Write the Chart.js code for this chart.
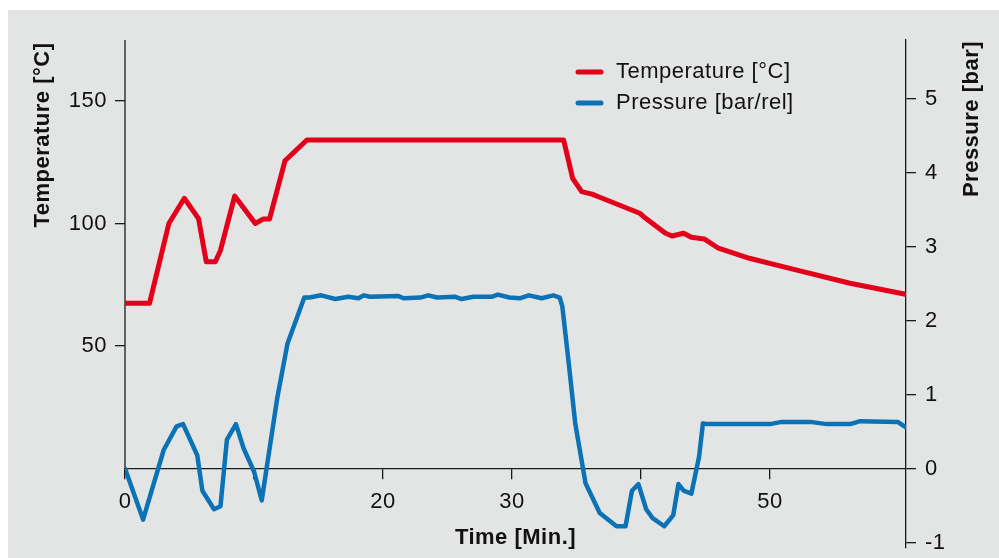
<!DOCTYPE html>
<html lang="en">
<head>
<meta charset="UTF-8">
<title>Temperature and pressure</title>
<script src="https://cdn.jsdelivr.net/npm/chart.js"></script>
<style>
    body {
        margin: 0;
        background: #ffffff;
    }

    .chart-box {
        position: absolute;
        left: 8px;
        top: 10px;
        width: 991px;
        height: 548px;
        background: #e3e5e4;
    }
</style>
</head>
<body>
<div class="chart-box">
    <canvas id="processChart" width="991" height="548"></canvas>
</div>

<script>
    // temperature curve (time in min, °C)
    const tempTime = [0, 1.9, 3.4, 4.6, 5.7, 6.3, 7.0, 7.4, 8.5, 10.1, 10.7, 11.2, 12.4, 14.1,
        34.0, 34.7, 35.4, 36.2, 36.8, 39.9, 40.2, 41.9, 42.4, 43.3, 43.9, 44.9, 46.0, 48.4, 51.3, 56.2, 60.5];
    const tempValues = [67.4, 67.4, 100, 110.3, 102, 84.4, 84.4, 89, 111.2, 100, 101.8, 101.8, 125.6, 134.1,
        134.1, 118.4, 113, 112, 110.7, 104.2, 102.8, 96, 94.9, 96, 94.4, 93.7, 89.9, 85.8, 82, 75.6, 71.1];

    // pressure curve (time in min, bar)
    const pressTime = [0, 1.4, 3.0, 4.0, 4.5, 5.6, 6.0, 6.9, 7.4, 7.9, 8.6, 9.2, 10.0, 10.6, 11.8, 12.6,
        13.9, 14.3, 15.2, 16.3, 17.3, 18.1, 18.5, 19.0, 21.2, 21.6, 22.9, 23.5, 24.2, 25.6, 26.1, 27.0,
        28.4, 28.9, 29.8, 30.6, 31.3, 32.3, 33.2, 33.7, 33.9, 34.4, 34.9, 35.7, 36.8, 38.1, 38.8, 39.3,
        39.8, 40.4, 40.9, 41.8, 42.5, 42.9, 43.3, 43.9, 44.5, 44.8, 45.1, 50.0, 50.9, 53.1, 54.4, 56.2,
        57.0, 59.9, 60.5];
    const pressValues = [0, -0.69, 0.25, 0.57, 0.6, 0.18, -0.3, -0.55, -0.51, 0.39, 0.6, 0.27, -0.04, -0.43, 0.95, 1.69,
        2.31, 2.31, 2.34, 2.29, 2.32, 2.3, 2.34, 2.32, 2.33, 2.3, 2.31, 2.34, 2.31, 2.32, 2.29, 2.32,
        2.32, 2.35, 2.31, 2.3, 2.34, 2.3, 2.34, 2.31, 2.19, 1.42, 0.61, -0.2, -0.6, -0.78, -0.78, -0.3,
        -0.21, -0.55, -0.67, -0.78, -0.63, -0.21, -0.3, -0.34, 0.16, 0.61, 0.6, 0.6, 0.63, 0.63, 0.6, 0.6,
        0.64, 0.63, 0.56];

    // ticks and texts
    const xTickValues = [0, 10, 20, 30, 40, 50];
    const xTickLabels = ['0', '', '20', '30', '', '50'];
    const tempTicks = [50, 100, 150];
    const pressTicks = [-1, 0, 1, 2, 3, 4, 5];
    const seriesLabels = ['Temperature [°C]', 'Pressure [bar/rel]'];
    const axisTitles = ['Time [Min.]', 'Temperature [°C]', 'Pressure [bar]'];

    const fontFamily = "'Liberation Sans', Arial, Helvetica, sans-serif";
    const axisColor = '#1a1a1a';
    const textColor = '#111111';

    Chart.defaults.font.family = fontFamily;
    Chart.defaults.color = textColor;

    const toPoints = (xs, ys) => xs.map((x, i) => ({x: x, y: ys[i]}));

    // extra drawing: left axis line (only above zero), rotated titles, legend
    const extras = {
        id: 'extras',
        beforeDraw(chart) {
            // the original lettering runs a little wider than Arial
            chart.ctx.letterSpacing = '0.5px';
        },
        beforeDatasetsDraw(chart) {
            const {ctx, chartArea, scales} = chart;
            const zeroY = scales.y.getPixelForValue(0);
            ctx.save();
            ctx.strokeStyle = axisColor;
            ctx.lineWidth = 1.3;
            ctx.beginPath();
            ctx.moveTo(chartArea.left, chartArea.top);
            ctx.lineTo(chartArea.left, zeroY);
            ctx.stroke();
            ctx.restore();
        },
        afterDraw(chart) {
            const {ctx} = chart;
            ctx.save();
            ctx.letterSpacing = '0.5px';
            ctx.fillStyle = textColor;
            ctx.font = 'bold 22px ' + fontFamily;
            ctx.textAlign = 'center';
            ctx.textBaseline = 'alphabetic';

            ctx.save();
            ctx.translate(41, 125);
            ctx.rotate(-Math.PI / 2);
            ctx.fillText(axisTitles[1], 0, 0);
            ctx.restore();

            ctx.save();
            ctx.translate(970, 109);
            ctx.rotate(-Math.PI / 2);
            ctx.fillText(axisTitles[2], 0, 0);
            ctx.restore();

            // legend
            ctx.font = '22px ' + fontFamily;
            ctx.textAlign = 'left';
            ctx.textBaseline = 'middle';
            ctx.lineCap = 'round';
            ctx.lineWidth = 5;
            chart.data.datasets.forEach((ds, i) => {
                const y = 62 + i * 31;
                ctx.strokeStyle = ds.borderColor;
                ctx.beginPath();
                ctx.moveTo(570, y);
                ctx.lineTo(593, y);
                ctx.stroke();
                ctx.fillText(ds.label, 608, y);
            });
            ctx.restore();
        }
    };

    const ctx = document.getElementById('processChart').getContext('2d');
    new Chart(ctx, {
        type: 'line',
        data: {
            datasets: [{
                label: seriesLabels[0],
                data: toPoints(tempTime, tempValues),
                yAxisID: 'y',
                borderColor: '#e2001a',
                borderWidth: 5,
                borderCapStyle: 'round',
                borderJoinStyle: 'round',
                pointRadius: 0,
                tension: 0
            }, {
                label: seriesLabels[1],
                data: toPoints(pressTime, pressValues),
                yAxisID: 'y1',
                borderColor: '#0b72b6',
                borderWidth: 4.5,
                borderCapStyle: 'round',
                borderJoinStyle: 'round',
                pointRadius: 0,
                tension: 0
            }]
        },
        options: {
            responsive: false,
            animation: false,
            layout: {padding: {left: 0, right: 0, top: 30, bottom: 10}},
            plugins: {
                legend: {display: false},
                tooltip: {enabled: false}
            },
            scales: {
                x: {
                    type: 'linear',
                    position: {y: 0},
                    min: 0,
                    max: 60.54,
                    afterBuildTicks: s => { s.ticks = xTickValues.map(v => ({value: v})); },
                    grid: {drawOnChartArea: false, drawTicks: true, tickLength: 10, color: axisColor, lineWidth: 1.3},
                    border: {display: true, color: axisColor, width: 1.3},
                    ticks: {
                        autoSkip: false,
                        maxRotation: 0,
                        padding: 10,
                        font: {size: 22},
                        color: textColor,
                        callback: (v, i) => xTickLabels[i]
                    },
                    title: {
                        display: true,
                        text: axisTitles[0],
                        font: {size: 22, weight: 'bold'},
                        color: textColor,
                        padding: {top: 0, bottom: 0}
                    }
                },
                y: {
                    position: 'left',
                    min: -32.45,
                    max: 174.9,
                    afterBuildTicks: s => { s.ticks = tempTicks.map(v => ({value: v})); },
                    afterFit: s => { s.width = 117; s.paddingTop = 0; s.paddingBottom = 0; },
                    grid: {drawOnChartArea: false, drawTicks: true, tickLength: 10, color: axisColor, lineWidth: 1.3},
                    border: {display: false},
                    ticks: {padding: 8, font: {size: 22}, color: textColor}
                },
                y1: {
                    position: 'right',
                    min: -1.074,
                    max: 5.79,
                    afterBuildTicks: s => { s.ticks = pressTicks.map(v => ({value: v})); },
                    afterFit: s => { s.width = 93; s.paddingTop = 0; s.paddingBottom = 0; },
                    grid: {drawOnChartArea: false, drawTicks: true, tickLength: 10, color: axisColor, lineWidth: 1.3},
                    border: {display: true, color: axisColor, width: 1.3},
                    ticks: {padding: 9, font: {size: 22}, color: textColor}
                }
            }
        },
        plugins: [extras]
    });
</script>
</body>
</html>
